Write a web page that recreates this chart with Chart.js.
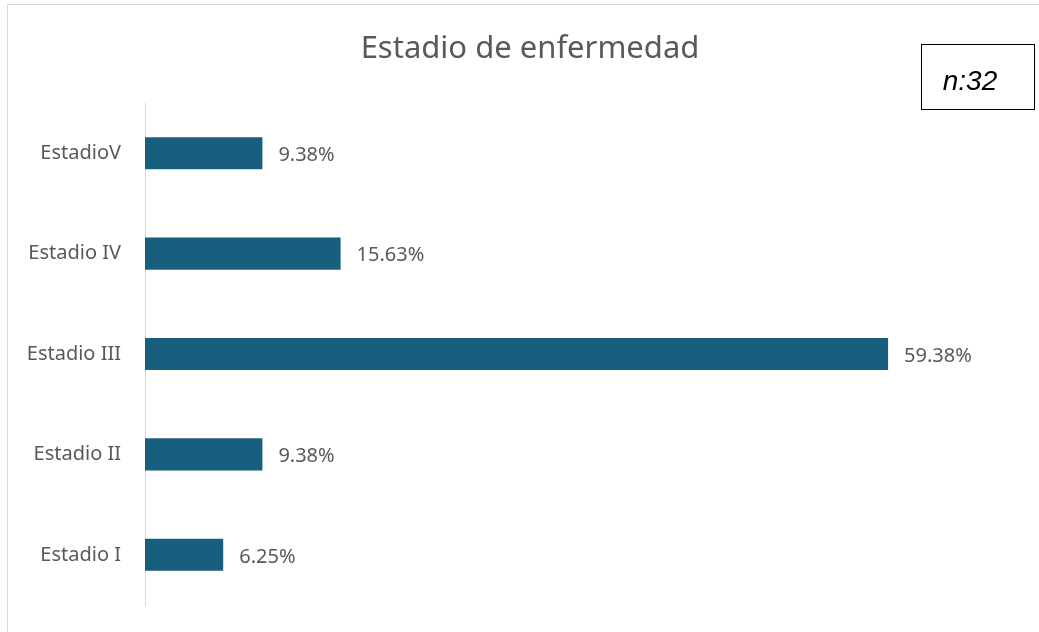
<!DOCTYPE html>
<html><head><meta charset="utf-8">
<script src="https://cdn.jsdelivr.net/npm/chart.js@4"></script>
<style>html,body{margin:0;padding:0;background:#fff;}#wrap{position:absolute;left:0;top:0;width:1039px;height:632px;}</style>
</head><body><div id="wrap"><canvas id="c" width="1039" height="632"></canvas></div>
<script>
const categories = ["EstadioV", "Estadio IV", "Estadio III", "Estadio II", "Estadio I"];
const values = [9.38, 15.63, 59.38, 9.38, 6.25];
const valueLabels = ["9.38%", "15.63%", "59.38%", "9.38%", "6.25%"];
const chartTitle = "Estadio de enfermedad";
const sampleNote = "n:32";

const FONT = "'Noto Sans', 'Open Sans', sans-serif";

const decor = {
  id: 'decor',
  beforeDraw(chart) {
    const ctx = chart.ctx;
    ctx.save();
    ctx.fillStyle = '#fff';
    ctx.fillRect(0, 0, chart.width, chart.height);
    ctx.strokeStyle = '#d9d9d9';
    ctx.lineWidth = 1;
    ctx.strokeRect(7.5, 4.5, 1040, 640);
    ctx.restore();
  },
  afterDraw(chart) {
    const ctx = chart.ctx;
    ctx.save();
    ctx.fillStyle = '#595959';
    ctx.font = "31px " + FONT;
    ctx.textAlign = 'center';
    ctx.textBaseline = 'middle';
    ctx.fillText(chartTitle, 530, 49);
    ctx.font = "20px " + FONT;
    ctx.textAlign = 'left';
    const meta = chart.getDatasetMeta(0);
    meta.data.forEach((bar, i) => {
      ctx.fillText(valueLabels[i], bar.x + 16, bar.y + 2);
    });
    ctx.strokeStyle = '#000';
    ctx.lineWidth = 1;
    ctx.strokeRect(921.5, 44.5, 113, 65);
    ctx.fillStyle = '#000';
    ctx.font = "italic 28px 'Liberation Sans', Arial, sans-serif";
    ctx.textAlign = 'center';
    ctx.fillText(sampleNote, 970, 82);
    ctx.restore();
  }
};

new Chart(document.getElementById('c'), {
  type: 'bar',
  data: {
    labels: categories,
    datasets: [{
      data: values,
      backgroundColor: '#185f7f',
      borderWidth: 0,
      barPercentage: 0.64,
      categoryPercentage: 0.5
    }]
  },
  options: {
    indexAxis: 'y',
    responsive: false,
    animation: false,
    layout: { padding: { top: 103, bottom: 27, left: 8, right: 18 } },
    plugins: { legend: { display: false }, title: { display: false }, tooltip: { enabled: false } },
    scales: {
      x: {
        display: false,
        min: 0, max: 70
      },
      y: {
        afterFit(s) { s.width = 137; s.paddingTop = 0; s.paddingBottom = 0; },
        grid: { display: false, drawTicks: false },
        border: { display: true, color: '#d9d9d9', width: 1 },
        ticks: { color: '#595959', font: { family: FONT, size: 20 }, padding: 24 }
      }
    }
  },
  plugins: [decor]
});
</script></body></html>
